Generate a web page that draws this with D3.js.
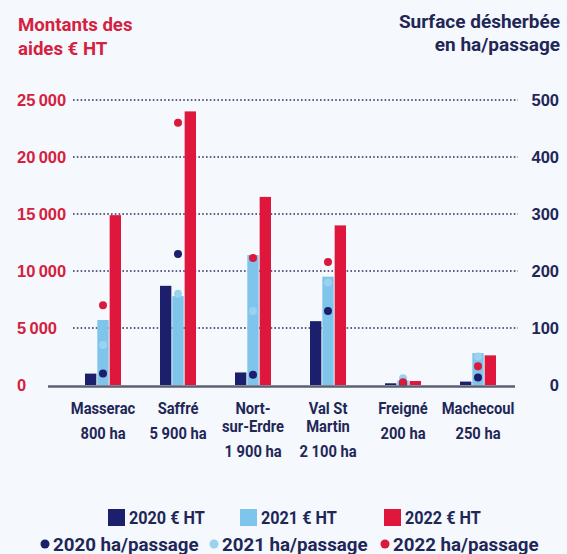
<!DOCTYPE html>
<html>
<head>
<meta charset="utf-8">
<script src="https://cdn.jsdelivr.net/npm/d3@7"></script>
<style>
  html, body { margin: 0; padding: 0; background: #f5f8fc; }
  svg { display: block; font-family: Roboto, "Noto Sans", sans-serif; font-weight: bold; }
</style>
</head>
<body>
<svg id="chart" width="567" height="554"></svg>
<script>
// communes, with their surface
var communes = ["Masserac", "Saffré", "Nort-sur-Erdre", "Val St Martin", "Freigné", "Machecoul"];
var communeLines = [["Masserac"], ["Saffré"], ["Nort-", "sur-Erdre"], ["Val St", "Martin"], ["Freigné"], ["Machecoul"]];
var surfaces = ["800 ha", "5 900 ha", "1 900 ha", "2 100 ha", "200 ha", "250 ha"];

// montants des aides (€ HT)
var aides2020 = [1000, 8700, 1100, 5600, 150, 300];
var aides2021 = [5700, 7800, 11400, 9500, 400, 2800];
var aides2022 = [14900, 24000, 16500, 14000, 350, 2600];

// surface désherbée (ha/passage)
var ha2020 = [20, 230, 18, 130, 3, 13];
var ha2021 = [70, 160, 130, 180, 12, 50];
var ha2022 = [140, 460, 223, 216, 5, 33];

var years = ["2020", "2021", "2022"];
var leftTicks = [0, 5000, 10000, 15000, 20000, 25000];
var rightTicks = [0, 100, 200, 300, 400, 500];

var colors = { "2020": "#1c1f6b", "2021": "#7fc4ea", "2022": "#e0173c" };
var dotColors = { "2020": "#1c1f6b", "2021": "#9ad3f0", "2022": "#d81a3c" };
var red = "#d4213f", navy = "#1f2757";

var svg = d3.select("#chart");

// narrow text a bit, the original uses a condensed face
function label(parent, x, y, sx, size, color, anchor, txt) {
    return parent.append("text")
        .attr("transform", "translate(" + x + "," + y + ") scale(" + sx + ",1)")
        .attr("text-anchor", anchor)
        .attr("font-size", size)
        .attr("fill", color)
        .text(txt);
}

// scales
var x = d3.scaleBand().domain(communes).range([65.5, 515.5]).paddingInner(0.52).paddingOuter(0.26);
var xYear = d3.scaleBand().domain(years).range([0, x.bandwidth()]).paddingInner(0.08);
var yLeft = d3.scaleLinear().domain([0, 25000]).range([385, 100]);
var yRight = d3.scaleLinear().domain([0, 500]).range([385, 100]);

var fmt = function(v) { return d3.format(",")(v).replace(/,/g, "\u2009"); };

// titles
label(svg, 18, 31, 0.98, 19, red, "start", "Montants des");
label(svg, 18, 55, 0.98, 19, red, "start", "aides € HT");
label(svg, 560, 28, 1, 19, navy, "end", "Surface désherbée");
label(svg, 560, 51, 1, 19, navy, "end", "en ha/passage");

// gridlines
svg.append("g").selectAll("line")
    .data(leftTicks.slice(1))
    .enter().append("line")
    .attr("x1", 73).attr("x2", 518)
    .attr("y1", function(d) { return yLeft(d); })
    .attr("y2", function(d) { return yLeft(d); })
    .attr("stroke", "#2a3160")
    .attr("stroke-width", 1.4)
    .attr("stroke-dasharray", "1.6,2.2");

// left axis
var leftAxis = svg.append("g")
    .attr("transform", "translate(17,0)")
    .call(d3.axisLeft(yLeft).tickValues(leftTicks).tickSize(0).tickFormat(fmt));
leftAxis.select(".domain").remove();
leftAxis.selectAll("text")
    .attr("x", 0).attr("text-anchor", "start")
    .attr("fill", red).attr("font-size", 16.5)
    .style("font-family", "inherit");

// right axis
var rightAxis = svg.append("g")
    .attr("transform", "translate(559,0)")
    .call(d3.axisRight(yRight).tickValues(rightTicks).tickSize(0));
rightAxis.select(".domain").remove();
rightAxis.selectAll("text")
    .attr("x", 0).attr("text-anchor", "end")
    .attr("fill", navy).attr("font-size", 16.5)
    .style("font-family", "inherit");

// bars
var aides = { "2020": aides2020, "2021": aides2021, "2022": aides2022 };
var groups = svg.append("g").selectAll("g")
    .data(communes)
    .enter().append("g")
    .attr("transform", function(d) { return "translate(" + x(d) + ",0)"; });

groups.selectAll("rect")
    .data(function(d, i) { return years.map(function(y) { return { year: y, value: aides[y][i] }; }); })
    .enter().append("rect")
    .attr("x", function(d) { return xYear(d.year); })
    .attr("width", xYear.bandwidth())
    .attr("y", function(d) { return yLeft(d.value); })
    .attr("height", function(d) { return yLeft(0) - yLeft(d.value); })
    .attr("fill", function(d) { return colors[d.year]; });

// baseline
svg.append("line")
    .attr("x1", 48).attr("x2", 515)
    .attr("y1", yLeft(0) + 1.5).attr("y2", yLeft(0) + 1.5)
    .attr("stroke", "#5b6173").attr("stroke-width", 2.5);

// dots (ha/passage), all on the 2021 bar
var ha = { "2020": ha2020, "2021": ha2021, "2022": ha2022 };
groups.selectAll("circle")
    .data(function(d, i) { return years.map(function(y) { return { year: y, value: ha[y][i] }; }); })
    .enter().append("circle")
    .attr("cx", xYear("2021") + xYear.bandwidth() / 2)
    .attr("cy", function(d) { return yRight(d.value); })
    .attr("r", 4)
    .attr("fill", function(d) { return dotColors[d.year]; });

// commune labels
var labels = svg.append("g").selectAll("text")
    .data(communes)
    .enter().append("text")
    .attr("text-anchor", "middle")
    .attr("fill", navy)
    .attr("font-size", 16)
    .attr("transform", function(d) { return "translate(" + (x(d) + x.bandwidth() / 2) + ",0) scale(0.92,1)"; });

labels.each(function(d, i) {
    var t = d3.select(this);
    var lines = communeLines[i];
    lines.forEach(function(l, j) {
        t.append("tspan").attr("x", 0).attr("y", 414 + j * 18).text(l);
    });
    t.append("tspan").attr("x", 0)
        .attr("y", 414 + (lines.length - 1) * 18 + 25).text(surfaces[i]);
});

// legend, row 1: bars
var legend1 = svg.append("g").selectAll("g")
    .data(years)
    .enter().append("g")
    .attr("transform", function(d, i) { return "translate(" + [108, 240, 384][i] + ",509)"; });
legend1.append("rect").attr("width", 17).attr("height", 17)
    .attr("fill", function(d) { return colors[d]; });
legend1.each(function(d) {
    label(d3.select(this), 21, 15, 0.9, 18, navy, "start", d + " € HT");
});

// legend, row 2: dots
var legend2 = svg.append("g").selectAll("g")
    .data(years)
    .enter().append("g")
    .attr("transform", function(d, i) { return "translate(" + [45, 214, 385][i] + ",544)"; });
legend2.append("circle").attr("r", 4.5)
    .attr("fill", function(d) { return dotColors[d]; });
legend2.each(function(d) {
    label(d3.select(this), 8, 6.5, 1.04, 18, navy, "start", d + " ha/passage");
});
</script>
</body>
</html>
